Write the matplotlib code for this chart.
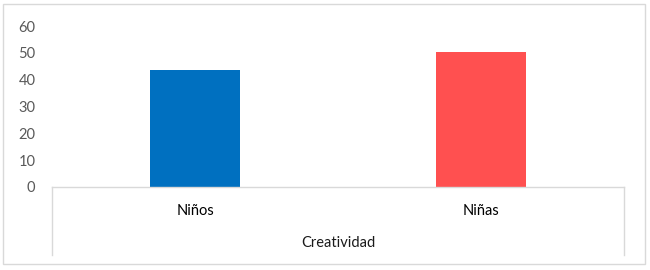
import matplotlib.pyplot as plt
import matplotlib.transforms as mtransforms
from matplotlib.patches import Rectangle

# Chart data
categories = ["Niños", "Niñas"]
values = [43.6, 50.3]
bar_colors = ["#0070C0", "#FF5050"]
group_label = "Creatividad"
y_ticks = [0, 10, 20, 30, 40, 50, 60]

plt.rcParams["font.family"] = ["Lato", "DejaVu Sans"]

W, H = 650, 270
fig = plt.figure(figsize=(W / 100, H / 100), dpi=100)
fig.patch.set_facecolor("white")

# axes placed in pixel coordinates of the reference
left, right, top, bottom = 52, 624, 26, 187
ax = fig.add_axes([left / W, (H - bottom) / H, (right - left) / W, (bottom - top) / H])

x = list(range(len(categories)))
ax.bar(x, values, width=0.315, color=bar_colors, zorder=2)

ax.set_xlim(-0.5, len(categories) - 0.5)
ax.set_ylim(0, 60)
ax.set_yticks(y_ticks)
ax.tick_params(axis="y", length=0, pad=12, labelsize=10.5, labelcolor="#595959")
ax.set_xticks(x)
ax.set_xticklabels(categories)
ax.tick_params(axis="x", length=0, pad=12, labelsize=10.5, labelcolor="#000000")

for side in ["left", "right", "top"]:
    ax.spines[side].set_visible(False)
ax.spines["bottom"].set_color("#d9d9d9")
ax.spines["bottom"].set_linewidth(1.0)

# multi-level category box lines
trans = mtransforms.blended_transform_factory(ax.transAxes, ax.transAxes)
depth = -(255 - bottom) / (bottom - top)
for xs in [0, 1]:
    ax.plot([xs, xs], [0, depth], color="#d9d9d9", lw=1.0, transform=trans, clip_on=False)

ax.text(0.5, -(243 - bottom) / (bottom - top), group_label, transform=trans,
        ha="center", va="center", fontsize=10.5, color="#1a1a1a")

# outer chart border
fig.add_artist(Rectangle((3 / W, 6 / H), 642 / W, 260 / H, transform=fig.transFigure,
                         fill=False, ec="#d9d9d9", lw=1.0))

fig.savefig("out.png", dpi=100)
